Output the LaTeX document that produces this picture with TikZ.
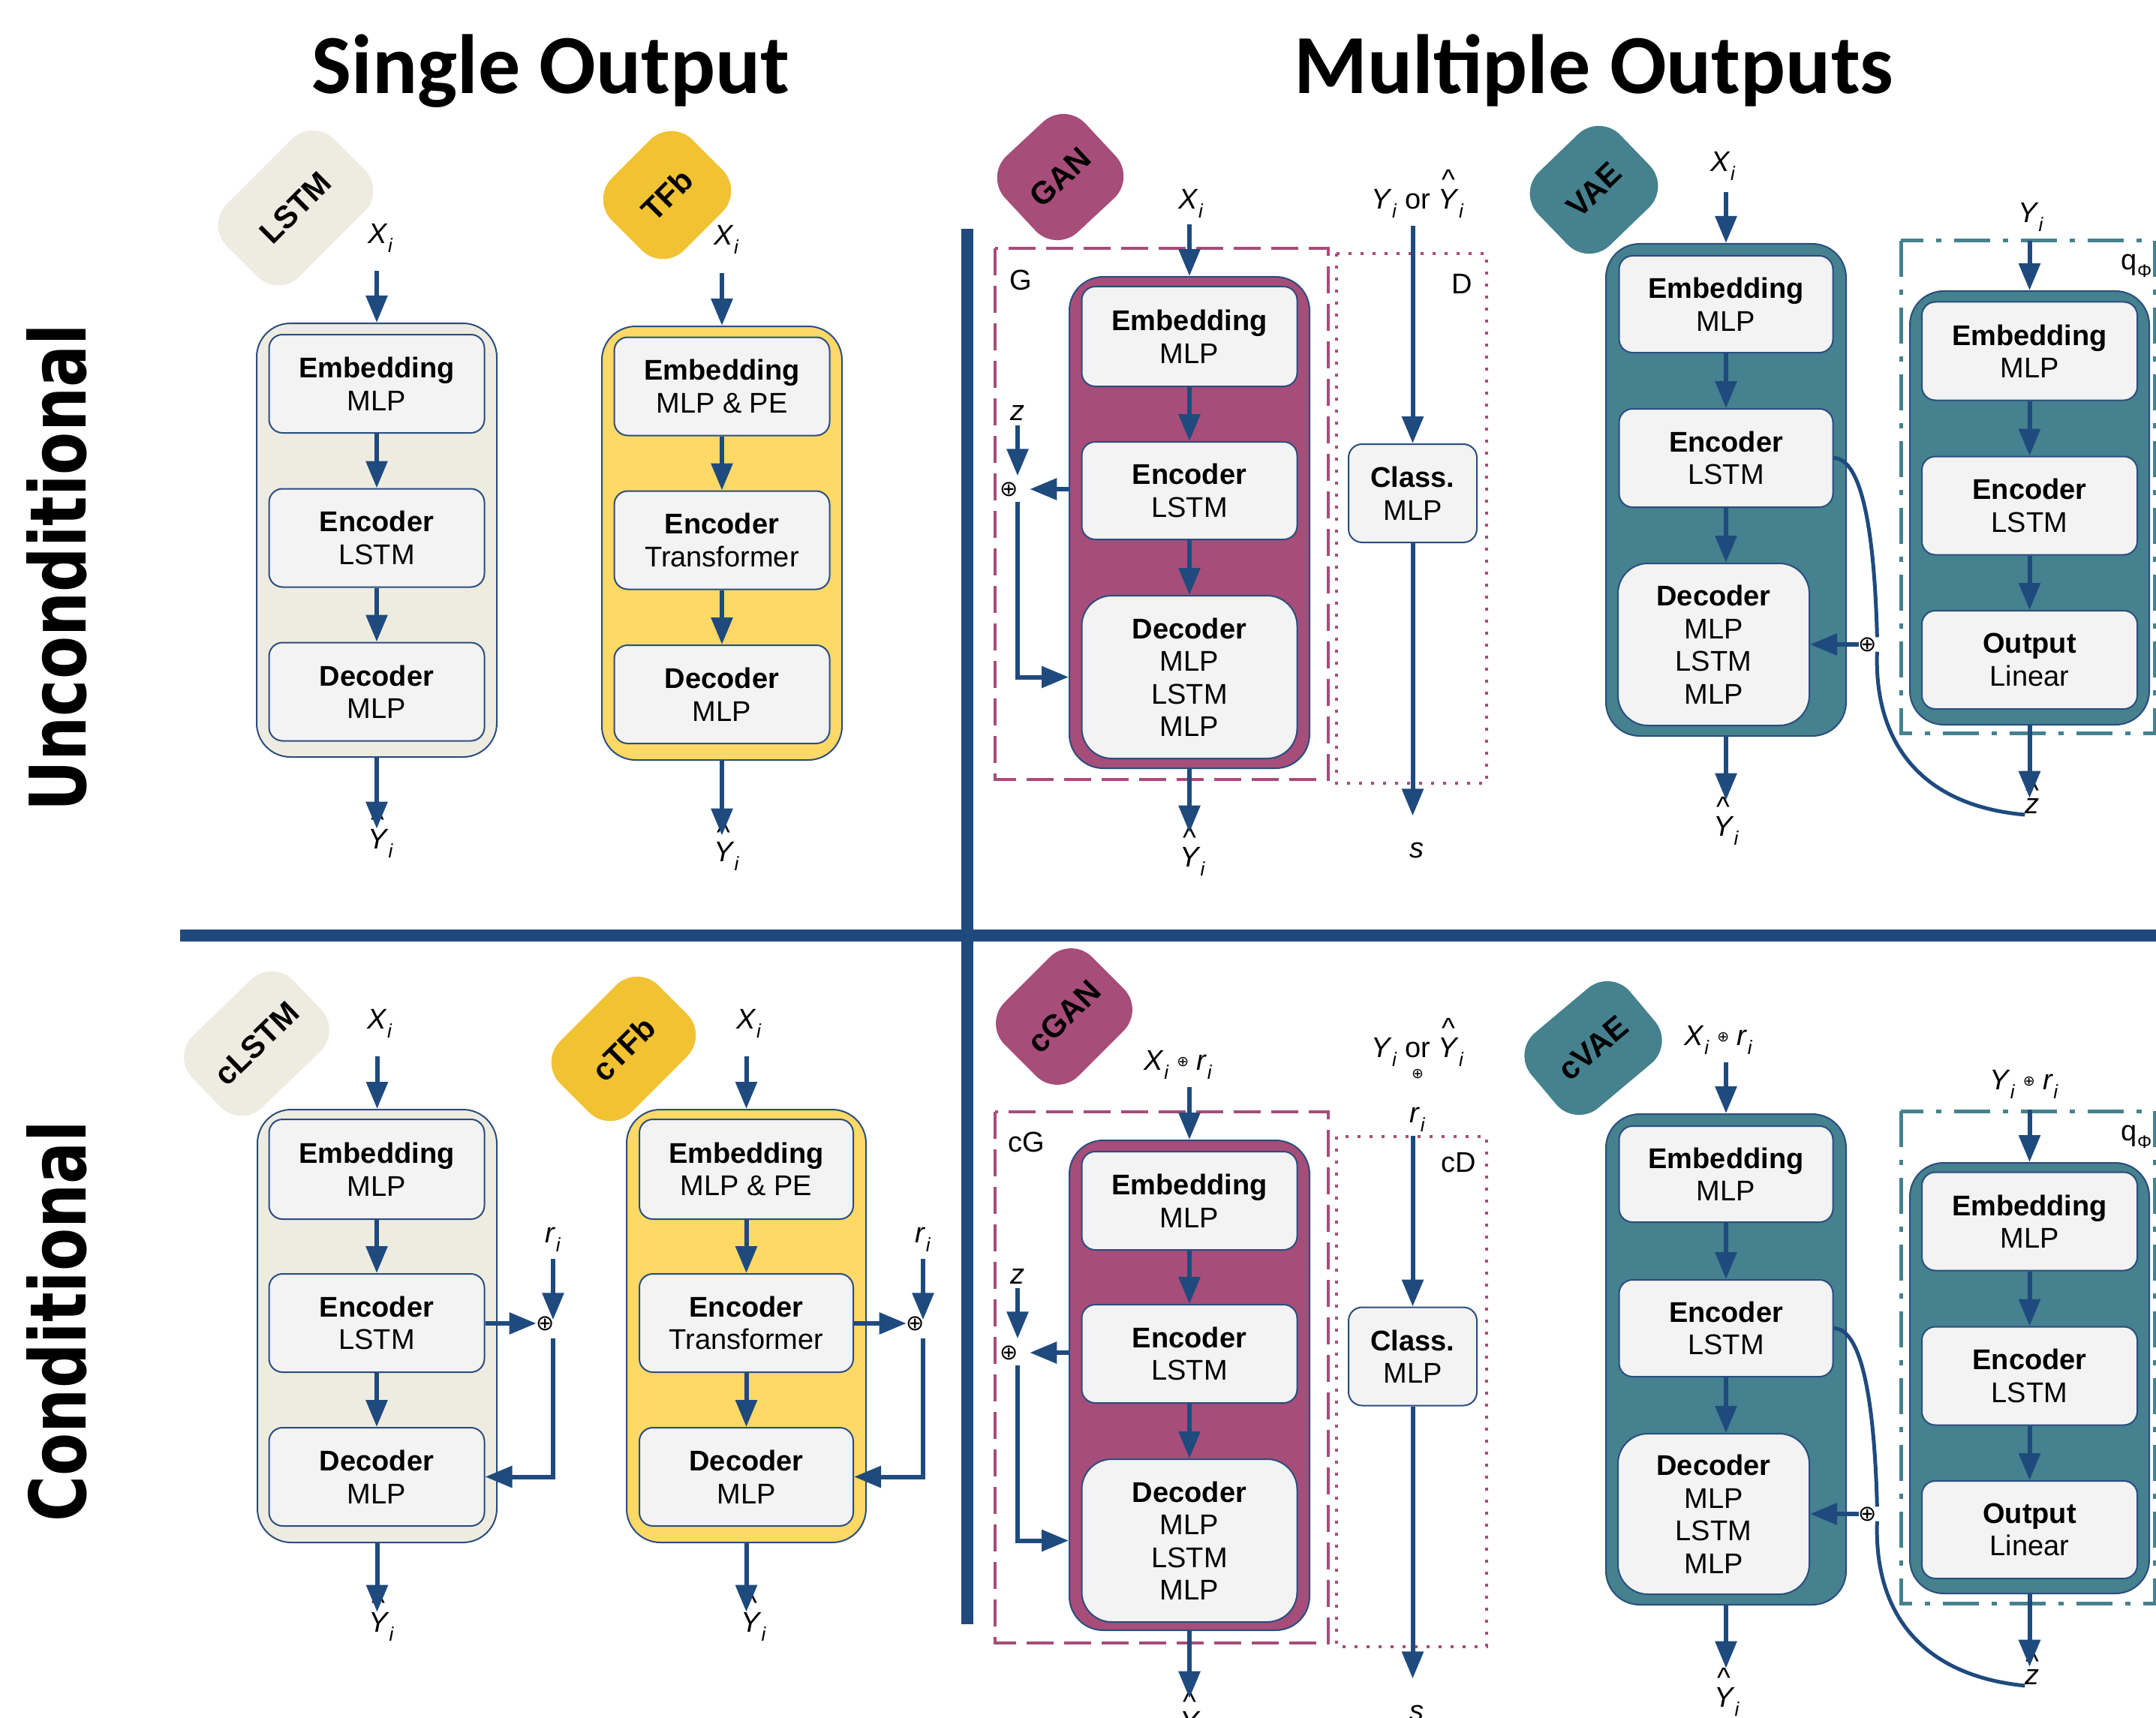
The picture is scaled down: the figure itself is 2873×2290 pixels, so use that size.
\documentclass[tikz,border=0pt]{standalone}
\usepackage{fontspec}
\setmainfont{Liberation Sans}
\newfontfamily\headfont{Carlito}
\newfontfamily\rowfont{DejaVu Sans}[FakeStretch=0.8]
\newfontfamily\plusfont{DejaVu Sans}
\usetikzlibrary{arrows.meta}

\definecolor{arrowblue}{HTML}{1F4A7E}
\definecolor{edgeblue}{HTML}{2A4D7F}
\definecolor{tanfill}{HTML}{EEECE1}
\definecolor{goldtag}{HTML}{F1C232}
\definecolor{goldfill}{HTML}{FFD966}
\definecolor{ganfill}{HTML}{A64D79}
\definecolor{vaefill}{HTML}{45818E}
\definecolor{cardfill}{HTML}{F3F3F3}

\newcommand{\lo}[1]{\raisebox{-12pt}{\fontsize{26}{26}\selectfont\textit{#1}}}
\newcommand{\vlab}[2]{\textit{#1}\lo{#2}}
\newcommand{\hatvlab}[2]{\ooalign{\textit{#1}\cr\hidewidth\raisebox{26pt}{\textasciicircum}\hidewidth\cr}\lo{#2}}
\newcommand{\hatz}{\ooalign{\textit{z}\cr\hidewidth\raisebox{18pt}{\textasciicircum}\hidewidth\cr}}
\newcommand{\osum}{\raisebox{5pt}{\fontsize{19}{19}\plusfont ⊕}}
\newcommand{\qphi}{q\raisebox{-10pt}{\fontsize{24}{24}\selectfont Φ}}

\begin{document}
\begin{tikzpicture}[x=1pt,y=-1pt,
  arr/.style={draw=arrowblue,line width=6pt,-{Triangle[length=36pt,width=28pt]}},
  link/.style={draw=arrowblue,line width=5pt},
  sepline/.style={draw=arrowblue,line width=16pt},
  outerbox/.style={draw=edgeblue,line width=2pt,rounded corners=45pt,minimum width=320pt,inner sep=0pt},
  card/.style={draw=edgeblue,line width=2pt,fill=cardfill,rounded corners=18pt,minimum width=287pt,minimum height=131pt,inner sep=0pt,align=center,font=\fontsize{38}{43.5}\selectfont},
  badge/.style={rounded corners=40pt,minimum height=136pt,inner sep=0pt,font=\fontsize{42}{42}\selectfont\bfseries},
  lbl/.style={inner sep=0pt,anchor=base,font=\fontsize{38}{44}\selectfont},
  sumnode/.style={inner sep=0pt,font=\fontsize{29}{29}\plusfont},
  gbox/.style={draw=ganfill,line width=4pt,dash pattern=on 36pt off 14pt},
  dbox/.style={draw=ganfill,line width=4pt,dash pattern=on 4pt off 12pt},
  qbox/.style={draw=vaefill,line width=5pt,dash pattern=on 48pt off 17pt on 7pt off 17pt}]
\useasboundingbox (0,0) rectangle (2873,2290);
\clip (0,0) rectangle (2873,2290);

% headings
\node[font=\fontsize{112}{112}\headfont\bfseries,inner sep=0pt,anchor=base] (single) at (734,125) {Single Output};
\node[font=\fontsize{112}{112}\headfont\bfseries,inner sep=0pt,anchor=base] (multi) at (2124,125) {Multiple Outputs};
\node[font=\fontsize{104}{104}\rowfont\bfseries,inner sep=0pt,anchor=base,rotate=90] (uncond) at (114,757) {Unconditional};
\node[font=\fontsize{104}{104}\rowfont\bfseries,inner sep=0pt,anchor=base,rotate=90] (cond) at (114,1761) {Conditional};

% dashed groups
\draw[gbox] (1326,331) rectangle (1770,1039);
\draw[dbox] (1781,338) rectangle (1981,1044);
\draw[qbox] (2533,321) rectangle (2871,977);
\draw[gbox] (1326,1482) rectangle (1770,2190);
\draw[dbox] (1781,1515) rectangle (1981,2195);
\draw[qbox] (2533,1481) rectangle (2871,2137);

% LSTM
\node[badge,fill=tanfill,minimum width=202pt,minimum height=137pt,rotate=45] (tlstm) at (394,277) {LSTM};
\node[outerbox,fill=tanfill,minimum height=578pt] (lbg) at (502,720) {};
\node[card] (lemb) at (502,511.5) {\textbf{Embedding}\\MLP};
\node[card] (lenc) at (502,717) {\textbf{Encoder}\\LSTM};
\node[card] (ldec) at (502,922) {\textbf{Decoder}\\MLP};
\node[lbl] (lx) at (507,325) {\vlab{X}{i}};
\node[lbl] (ly) at (507,1131) {\hatvlab{Y}{i}};
\draw[arr,shorten <=24pt] (lbg.north |- lx.south) -- (lbg.north);
\draw[arr] (lemb) -- (lenc);
\draw[arr] (lenc) -- (ldec);
\draw[arr] (lbg.south) -- (lbg.south |- ly.north);

% TFb
\node[badge,fill=goldtag,minimum width=152pt,rotate=45] (ttfb) at (889,260) {TFb};
\node[outerbox,fill=goldfill,minimum height=578pt] (tbg) at (962,724) {};
\node[card] (temb) at (962,515) {\textbf{Embedding}\\MLP \& PE};
\node[card] (tenc) at (962,720) {\textbf{Encoder}\\Transformer};
\node[card] (tdec) at (962,925.5) {\textbf{Decoder}\\MLP};
\node[lbl] (tx) at (968,327) {\vlab{X}{i}};
\node[lbl] (ty) at (968,1148) {\hatvlab{Y}{i}};
\draw[arr,shorten <=25pt] (tbg.north |- tx.south) -- (tbg.north);
\draw[arr] (temb) -- (tenc);
\draw[arr] (tenc) -- (tdec);
\draw[arr,shorten >=8pt] (tbg.south) -- (tbg.south |- ty.north);

% GAN
\node[badge,fill=ganfill,minimum width=146pt,minimum height=139pt,rotate=43] (tgan) at (1413,236) {GAN};
\node[outerbox,fill=ganfill,minimum height=655pt] (gbg) at (1585,696.5) {};
\node[card,minimum height=133pt] (gemb) at (1585,448.5) {\textbf{Embedding}\\MLP};
\node[card,minimum height=130pt] (genc) at (1585,654) {\textbf{Encoder}\\LSTM};
\node[card,minimum height=217pt,rounded corners=40pt] (gdec) at (1585,902.5) {\textbf{Decoder}\\MLP\\LSTM\\MLP};
\node[lbl] (gx) at (1587,279) {\vlab{X}{i}};
\node[lbl] (gy) at (1589,1155) {\hatvlab{Y}{i}};
\node[lbl] (gz) at (1356,560) {\textit{z}};
\node[sumnode] (gpl) at (1345,652) {⊕};
\node[lbl,anchor=center] (glbl) at (1360,373) {G};
\draw[arr,shorten <=8pt] (gbg.north |- gx.south) -- (gbg.north);
\draw[arr] (gemb) -- (genc);
\draw[arr] (genc) -- (gdec);
\draw[arr,shorten >=19pt] (gbg.south) -- (gbg.south |- gy.north);
\draw[arr,shorten <=7pt,shorten >=8pt] (gz.south) -- (gz.south |- gpl.north);
\draw[arr,shorten >=15pt] (gbg.west |- gpl) -- (gpl.east);
\draw[arr,shorten <=7pt] (gz |- gpl.south) |- (gbg.west |- gdec);
% discriminator
\node[lbl,anchor=center] (dlbl) at (1948,378) {D};
\node[card,minimum width=171pt] (gcls) at (1882.5,657.5) {\textbf{Class.}\\MLP};
\node[lbl] (gd) at (1889,279) {\vlab{Y}{i} or \hatvlab{Y}{i}};
\node[lbl] (gs) at (1888,1143) {\textit{s}};
\draw[arr,shorten <=10pt] (gcls.north |- gd.south) -- (gcls.north);
\draw[arr,shorten >=35pt] (gcls.south) -- (gcls.south |- gs.north);

% VAE
\node[badge,fill=vaefill,minimum width=152pt,rotate=44] (tvae) at (2124,253) {VAE};
\node[outerbox,fill=vaefill,minimum height=656pt] (vbg) at (2300,653) {};
\node[card,minimum width=285pt,minimum height=129pt] (vemb) at (2300,405.5) {\textbf{Embedding}\\MLP};
\node[card,minimum width=285pt] (venc) at (2300,610.5) {\textbf{Encoder}\\LSTM};
\node[card,minimum width=255pt,minimum height=216pt,rounded corners=40pt] (vdec) at (2283.5,859) {\textbf{Decoder}\\MLP\\LSTM\\MLP};
\node[lbl] (vx) at (2296,229) {\vlab{X}{i}};
\node[lbl] (vy) at (2300,1114) {\hatvlab{Y}{i}};
\node[sumnode] (vpl) at (2489,859) {⊕};
\draw[arr,shorten <=15pt] (vbg.north |- vx.south) -- (vbg.north);
\draw[arr] (vemb) -- (venc);
\draw[arr] (venc.south) -- (venc.south |- vdec.north);
\draw[arr,shorten >=21pt] (vbg.south) -- (vbg.south |- vy.north);
\draw[arr] (vpl.west) -- (vpl.west -| vdec.east);
% posterior
\node[outerbox,fill=vaefill,minimum width=319pt,minimum height=578pt] (qbg) at (2704.5,677) {};
\node[card] (qemb) at (2704.5,468) {\textbf{Embedding}\\MLP};
\node[card] (qenc) at (2704.5,674) {\textbf{Encoder}\\LSTM};
\node[card] (qout) at (2704.5,879.5) {\textbf{Output}\\Linear};
\node[lbl] (qy) at (2706,297) {\vlab{Y}{i}};
\node[lbl] (qz) at (2708,1084) {\hatz};
\node[lbl] (qlbl) at (2847,360) {\qphi};
\draw[arr,shorten <=12pt] (qbg.north |- qy.south) -- (qbg.north);
\draw[arr] (qemb) -- (qenc);
\draw[arr] (qenc) -- (qout);
\draw[arr] (qbg.south) -- (qbg.south |- qz.north);
\draw[link] (venc.east) .. controls (2475,611) and (2497,680) .. (vpl.north east);
\draw[link] (vpl.south east) .. controls (2497,990) and (2560,1074) .. ([yshift=-12pt]qz.west);

% cLSTM
\node[badge,fill=tanfill,minimum width=187pt,minimum height=133pt,rotate=44] (tclstm) at (342,1391) {cLSTM};
\node[outerbox,fill=tanfill,minimum width=319pt,minimum height=577pt] (clbg) at (502.5,1767.5) {};
\node[card,minimum height=133pt] (clemb) at (502,1558.5) {\textbf{Embedding}\\MLP};
\node[card] (clenc) at (502,1763.5) {\textbf{Encoder}\\LSTM};
\node[card] (cldec) at (502,1968.5) {\textbf{Decoder}\\MLP};
\node[lbl] (clx) at (506,1371) {\vlab{X}{i}};
\node[lbl] (cly) at (508,2175) {\hatvlab{Y}{i}};
\node[lbl] (clr) at (737,1656) {\vlab{r}{i}};
\node[sumnode] (clpl) at (727,1764) {⊕};
\draw[arr,shorten <=25pt] (clbg.north |- clx.south) -- (clbg.north);
\draw[arr] (clemb) -- (clenc);
\draw[arr] (clenc) -- (cldec);
\draw[arr] (clbg.south) -- (clbg.south |- cly.north);
\draw[arr,shorten <=10pt,shorten >=-5pt] (clr.south) -- (clr.south |- clpl.north);
\draw[arr] (clenc.east |- clpl) -- (clpl.west);
\draw[arr,shorten <=10pt] (clr |- clpl.south) |- (cldec.east);

% cTFb
\node[badge,fill=goldtag,minimum width=185pt,minimum height=134pt,rotate=45] (tctfb) at (831,1398) {cTFb};
\node[outerbox,fill=goldfill,minimum width=319pt,minimum height=577pt] (ctbg) at (994.5,1767.5) {};
\node[card,minimum width=285pt,minimum height=133pt] (ctemb) at (994.5,1558.5) {\textbf{Embedding}\\MLP \& PE};
\node[card,minimum width=285pt] (ctenc) at (994.5,1763.5) {\textbf{Encoder}\\Transformer};
\node[card,minimum width=285pt] (ctdec) at (994.5,1968.5) {\textbf{Decoder}\\MLP};
\node[lbl] (ctx) at (998,1371) {\vlab{X}{i}};
\node[lbl] (cty) at (1004,2175) {\hatvlab{Y}{i}};
\node[lbl] (ctr) at (1230,1656) {\vlab{r}{i}};
\node[sumnode] (ctpl) at (1220,1764) {⊕};
\draw[arr,shorten <=25pt] (ctbg.north |- ctx.south) -- (ctbg.north);
\draw[arr] (ctemb) -- (ctenc);
\draw[arr] (ctenc) -- (ctdec);
\draw[arr] (ctbg.south) -- (ctbg.south |- cty.north);
\draw[arr,shorten <=10pt,shorten >=-5pt] (ctr.south) -- (ctr.south |- ctpl.north);
\draw[arr] (ctenc.east |- ctpl) -- (ctpl.west);
\draw[arr,shorten <=10pt] (ctr |- ctpl.south) |- (ctdec.east);

% cGAN
\node[badge,fill=ganfill,minimum width=165pt,minimum height=139pt,rotate=45] (tcgan) at (1418,1355) {cGAN};
\node[outerbox,fill=ganfill,minimum height=653pt] (cgbg) at (1585,1846.5) {};
\node[card] (cgemb) at (1585,1600.5) {\textbf{Embedding}\\MLP};
\node[card] (cgenc) at (1585,1804.5) {\textbf{Encoder}\\LSTM};
\node[card,minimum height=217pt,rounded corners=40pt] (cgdec) at (1585,2053.5) {\textbf{Decoder}\\MLP\\LSTM\\MLP};
\node[lbl] (cgx) at (1570,1426) {\vlab{X}{i} \osum{} \vlab{r}{i}};
\node[lbl] (cgy) at (1589,2307) {\hatvlab{Y}{i}};
\node[lbl] (cgz) at (1356,1711) {\textit{z}};
\node[sumnode] (cgpl) at (1345,1803) {⊕};
\node[lbl,anchor=center] (cglbl) at (1368,1522) {cG};
\draw[arr,shorten <=11pt] (cgbg.north |- cgx.south) -- (cgbg.north);
\draw[arr] (cgemb) -- (cgenc);
\draw[arr] (cgenc) -- (cgdec);
\draw[arr,shorten >=17pt] (cgbg.south) -- (cgbg.south |- cgy.north);
\draw[arr,shorten <=6pt,shorten >=9pt] (cgz.south) -- (cgz.south |- cgpl.north);
\draw[arr,shorten >=15pt] (cgbg.west |- cgpl) -- (cgpl.east);
\draw[arr,shorten <=7pt] (cgz |- cgpl.south) |- (cgbg.west |- cgdec);
% conditional discriminator
\node[lbl,anchor=center] (cdlbl) at (1944,1550) {cD};
\node[card,minimum width=171pt] (cgcls) at (1882.5,1808) {\textbf{Class.}\\MLP};
\node[lbl,anchor=north,align=center] (cgd) at (1889,1383) {\vlab{Y}{i} or \hatvlab{Y}{i}\\[-11pt]\osum\\[10pt]\vlab{r}{i}};
\node[lbl] (cgs) at (1888,2293) {\textit{s}};
\draw[arr,shorten <=5pt] (cgcls.north |- cgd.south) -- (cgcls.north);
\draw[arr,shorten >=35pt] (cgcls.south) -- (cgcls.south |- cgs.north);

% cVAE
\node[badge,fill=vaefill,minimum width=172pt,minimum height=131pt,rotate=40] (tcvae) at (2123,1397) {cVAE};
\node[outerbox,fill=vaefill,minimum height=654pt] (cvbg) at (2300,1812) {};
\node[card,minimum width=285pt,minimum height=128pt] (cvemb) at (2300,1565) {\textbf{Embedding}\\MLP};
\node[card,minimum width=285pt,minimum height=129pt] (cvenc) at (2300,1770.5) {\textbf{Encoder}\\LSTM};
\node[card,minimum width=255pt,minimum height=214pt,rounded corners=40pt] (cvdec) at (2283.5,2018) {\textbf{Decoder}\\MLP\\LSTM\\MLP};
\node[lbl] (cvx) at (2290,1393) {\vlab{X}{i} \osum{} \vlab{r}{i}};
\node[lbl] (cvy) at (2301,2275) {\hatvlab{Y}{i}};
\node[sumnode] (cvpl) at (2489,2018) {⊕};
\draw[arr,shorten <=11pt] (cvbg.north |- cvx.south) -- (cvbg.north);
\draw[arr] (cvemb) -- (cvenc);
\draw[arr] (cvenc.south) -- (cvenc.south |- cvdec.north);
\draw[arr,shorten >=25pt] (cvbg.south) -- (cvbg.south |- cvy.north);
\draw[arr] (cvpl.west) -- (cvpl.west -| cvdec.east);
% conditional posterior
\node[outerbox,fill=vaefill,minimum width=319pt,minimum height=574pt] (cqbg) at (2704.5,1837) {};
\node[card] (cqemb) at (2704.5,1628) {\textbf{Embedding}\\MLP};
\node[card] (cqenc) at (2704.5,1834) {\textbf{Encoder}\\LSTM};
\node[card,minimum height=130pt] (cqout) at (2704.5,2039) {\textbf{Output}\\Linear};
\node[lbl] (cqy) at (2697,1452) {\vlab{Y}{i} \osum{} \vlab{r}{i}};
\node[lbl] (cqz) at (2708,2245) {\hatz};
\node[lbl] (cqlbl) at (2847,1520) {\qphi};
\draw[arr,shorten <=15pt] (cqbg.north |- cqy.south) -- (cqbg.north);
\draw[arr] (cqemb) -- (cqenc);
\draw[arr] (cqenc) -- (cqout);
\draw[arr,shorten >=3pt] (cqbg.south) -- (cqbg.south |- cqz.north);
\draw[link] (cvenc.east) .. controls (2475,1770.5) and (2497,1840) .. (cvpl.north east);
\draw[link] (cvpl.south east) .. controls (2497,2150) and (2560,2233) .. ([yshift=-12pt]cqz.west);

% separators
\draw[sepline] (1289,305) -- (1289,2165);
\draw[sepline] (240,1247) -- (2873,1247);
\end{tikzpicture}
\end{document}
